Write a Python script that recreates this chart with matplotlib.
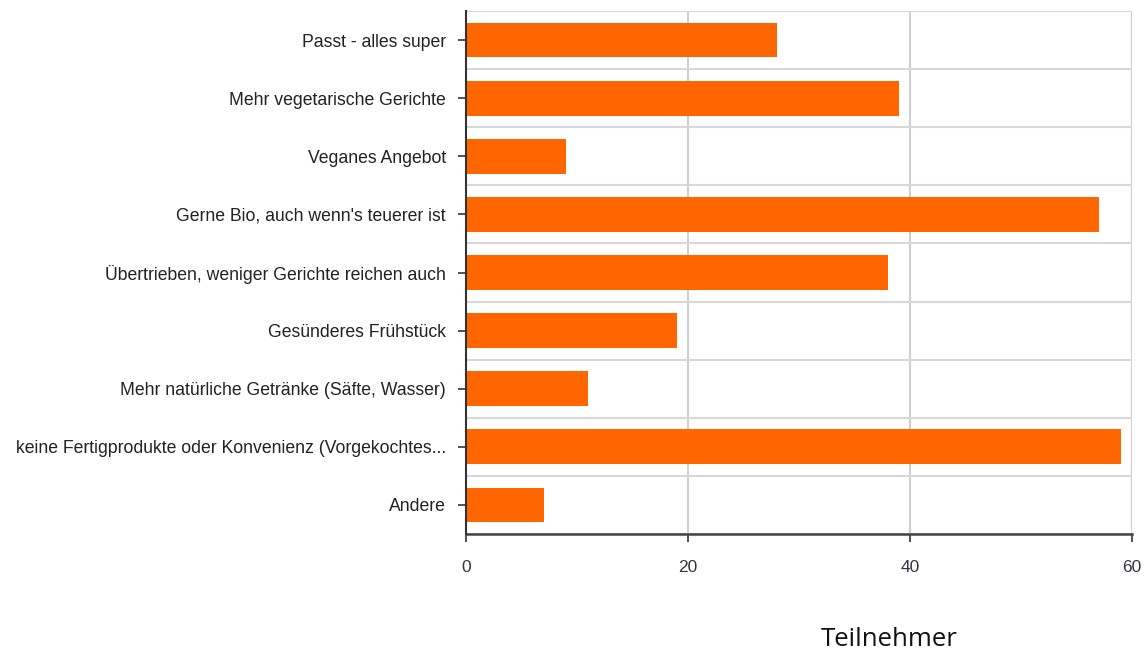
import matplotlib
matplotlib.use("Agg")
import matplotlib.pyplot as plt
import numpy as np

categories = [
    "Passt - alles super",
    "Mehr vegetarische Gerichte",
    "Veganes Angebot",
    "Gerne Bio, auch wenn's teuerer ist",
    "Übertrieben, weniger Gerichte reichen auch",
    "Gesünderes Frühstück",
    "Mehr natürliche Getränke (Säfte, Wasser)",
    "keine Fertigprodukte oder Konvenienz (Vorgekochtes...",
    "Andere",
]
values = [28, 39, 9, 57, 38, 19, 11, 59, 7]
xticks = [0, 20, 40, 60]
xlabel = "Teilnehmer"

plt.rcParams['font.family'] = ['Liberation Sans', 'DejaVu Sans']

fig = plt.figure(figsize=(11.44, 6.51), dpi=100)
ax = fig.add_axes([466/1144, 1-534/651, (1132-466)/1144, (534-11)/651])

y = np.arange(len(categories))
ax.barh(y, values, height=0.6, color="#FF6600", zorder=3)
ax.set_ylim(len(categories)-0.5, -0.5)
ax.set_xlim(0, 60)
ax.set_xticks(xticks)
ax.set_yticks(y)
ax.set_yticklabels(categories)

# grid
for gx in xticks[1:]:
    ax.axvline(gx, color="#d0d0d0", lw=1.5, zorder=1)
for gy in np.arange(-0.5, len(categories)-0.4, 1):
    ax.axhline(gy, color="#d8d8d8", lw=1.5, zorder=1)

for s in ["top", "right"]:
    ax.spines[s].set_visible(False)
ax.spines["left"].set_color("#333333")
ax.spines["left"].set_linewidth(1.5)
ax.spines["bottom"].set_color("#444444")
ax.spines["bottom"].set_linewidth(1.8)
ax.spines["left"].set_zorder(4)

ax.tick_params(axis="y", length=6, width=1.2, color="#333333", labelsize=12.7,
               labelcolor="#222222", pad=8.5)
ax.tick_params(axis="x", length=6, width=1.2, color="#333333", labelsize=12.5,
               labelcolor="#333344", pad=12.5)

fig.text(889/1144, 1-639/651, xlabel, ha="center", va="center",
         fontsize=18.5, family=["Open Sans", "DejaVu Sans"], color="#111111")

fig.savefig("out.png", dpi=100)
